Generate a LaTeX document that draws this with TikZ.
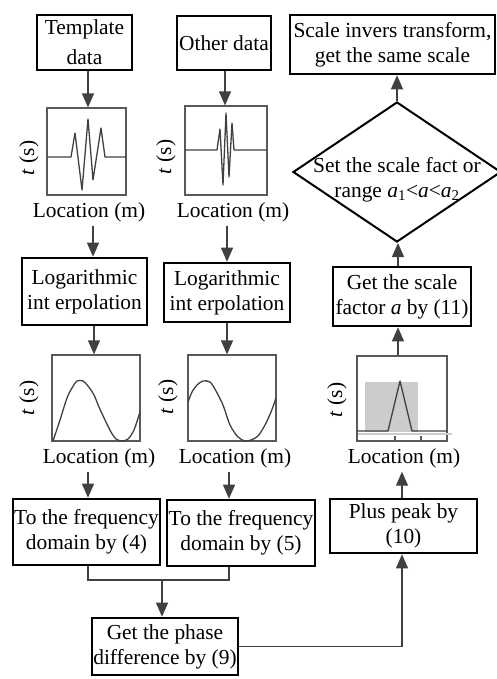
\documentclass[tikz,border=0pt]{standalone}
\usepackage{fontspec}
\setmainfont{Liberation Serif}
\usetikzlibrary{arrows.meta,shapes.geometric}
\begin{document}
\begin{tikzpicture}[x=1pt,y=-1pt,
  box/.style={draw=black,line width=2.6pt,inner sep=0pt,align=center,font=\fontsize{21.4}{25}\selectfont},
  plotbox/.style={draw=black!65,line width=1.2pt,inner sep=0pt},
  curve/.style={draw=black!75,line width=1.3pt,line join=round},
  arr/.style={draw=black!75,line width=1.3pt,-{Triangle[length=14pt,width=12pt]}},
  conn/.style={draw=black!75,line width=1.3pt},
  lbl/.style={inner sep=0pt,outer sep=4pt,font=\fontsize{21.4}{25}\selectfont},
  ylbl/.style={inner sep=0pt,rotate=90,font=\fontsize{21.4}{25}\selectfont},
]
\useasboundingbox (0,0) rectangle (497,679);

% boxes
\node[box,minimum width=95pt,minimum height=55pt] (tmpl) at (84.5,42.5) {Template\\[5pt]data};
\node[box,minimum width=94pt,minimum height=54pt] (other) at (224,43) {Other data};
\node[box,minimum width=205pt,minimum height=59pt] (inv) at (392.5,44.5) {Scale invers transform,\\get the same scale};
\node[box,minimum width=125pt,minimum height=67pt] (log1) at (84.5,291.5) {Logarithmic\\int erpolation};
\node[box,minimum width=126pt,minimum height=59pt] (log2) at (227,292.5) {Logarithmic\\int erpolation};
\node[box,minimum width=147pt,minimum height=66pt] (freq1) at (86.5,532) {To the frequency\\domain by (4)};
\node[box,minimum width=148pt,minimum height=66pt] (freq2) at (241,533) {To the frequency\\domain by (5)};
\node[box,minimum width=146pt,minimum height=57pt] (phase) at (165,646.5) {Get the phase\\difference by (9)};
\node[box,minimum width=147pt,minimum height=54pt] (plus) at (403.5,526) {Plus peak by\\(10)};
\node[box,minimum width=138pt,minimum height=59pt] (gs) at (402,296.5) {Get the scale\\factor \textit{a} by (11)};
\node[diamond,draw=black,line width=2pt,inner sep=0pt,minimum width=208pt,minimum height=140pt] (dia) at (397,172) {};
\node[lbl,align=center] (diatext) at (397,180) {Set the scale fact or\\range \textit{a}\textsubscript{1}<\textit{a}<\textit{a}\textsubscript{2}};

% plot boxes
\node[plotbox,minimum width=79pt,minimum height=87pt] (p1) at (86.5,151.5) {};
\node[plotbox,minimum width=82pt,minimum height=89pt] (p2) at (226,150.5) {};
\node[plotbox,minimum width=88pt,minimum height=86pt] (p3) at (96,398) {};
\node[plotbox,minimum width=88pt,minimum height=86pt] (p4) at (232,398) {};
\node[plotbox,minimum width=90pt,minimum height=85pt] (p5) at (402,398.5) {};

% y labels
\node[ylbl] at (29,158) {\textit{t} (s)};
\node[ylbl] at (166,157) {\textit{t} (s)};
\node[ylbl] at (29,398) {\textit{t} (s)};
\node[ylbl] at (168,397) {\textit{t} (s)};
\node[ylbl] at (337,400) {\textit{t} (s)};

% location labels
\node[lbl] (loc1) at (89,212) {Location (m)};
\node[lbl] (loc2) at (233,212) {Location (m)};
\node[lbl] (loc3) at (99,458) {Location (m)};
\node[lbl] (loc4) at (235,458) {Location (m)};
\node[lbl] (loc5) at (404,458) {Location (m)};

% curves
\draw[curve] (47,157) -- (71,157) -- (75,133) -- (82,190) -- (88,119) -- (93,180) -- (101,128) -- (105,157) -- (126,157);
\draw[curve] (185,150) -- (217,150) -- (220,129) -- (223,185) -- (226,113) -- (229,177) -- (232,123) -- (234,150) -- (267,150);
\draw[curve] plot[smooth,tension=0.5] coordinates {(53,441) (60,420) (67,398) (72,388) (77,381) (83,381) (88,386) (94,395) (99,407) (105,420) (111,432) (116,439) (122,441) (128,439) (134,430) (140,412)};
\draw[curve] plot[smooth,tension=0.5] coordinates {(188,402) (192,392) (197,385) (203,381) (210,382) (216,391) (223,405) (230,425) (238,437) (245,441) (251,440) (258,436) (265,425) (271,412) (276,398)};
\fill[black!20] (365,382) rectangle (418,432);
\draw[black!20,line width=2.5pt] (358,434) -- (452,434);
\draw[curve] (357,431) -- (388,431) -- (400,381) -- (412,431) -- (447,431);
\draw[black!65,line width=1.2pt] (395,441) -- (395,436) (421,441) -- (421,436);

% connector x positions
\coordinate (a1) at (88,0);
\coordinate (a2) at (225,0);
\coordinate (a3) at (93,0);
\coordinate (a4) at (227,0);
\coordinate (a5) at (94,0);
\coordinate (a6) at (229,0);
\coordinate (a7) at (402,0);
\coordinate (a8) at (398,0);
\coordinate (a9) at (397,0);
\coordinate (j1) at (88,580);
\coordinate (j2) at (229,580);
\coordinate (j) at (162,580);

% connectors
\draw[arr] (tmpl.south -| a1) -- (p1.north -| a1);
\draw[arr] (other.south -| a2) -- (p2.north -| a2);
\draw[arr] (loc1.south -| a3) -- (log1.north -| a3);
\draw[arr] (loc2.south -| a4) -- (log2.north -| a4);
\draw[arr] (log1.south -| a5) -- (p3.north -| a5);
\draw[arr] (log2.south -| a4) -- (p4.north -| a4);
\draw[arr] (loc3.south -| a1) -- (freq1.north -| a1);
\draw[arr] (loc4.south -| a6) -- (freq2.north -| a6);
\draw[conn] (freq1.south -| j1) -- (j1) -- (j2) -- (freq2.south -| j2);
\draw[arr] (j) -- (phase.north -| j);
\draw[arr] (phase.east) -| (plus.south -| a7);
\draw[arr] (plus.north -| a7) -- (loc5.south -| a7);
\draw[arr] (p5.north -| a8) -- (gs.south -| a8);
\draw[arr] (gs.north -| a8) -- (dia.south -| a8);
\draw[arr] (dia.north -| a9) -- (inv.south -| a9);
\end{tikzpicture}
\end{document}
